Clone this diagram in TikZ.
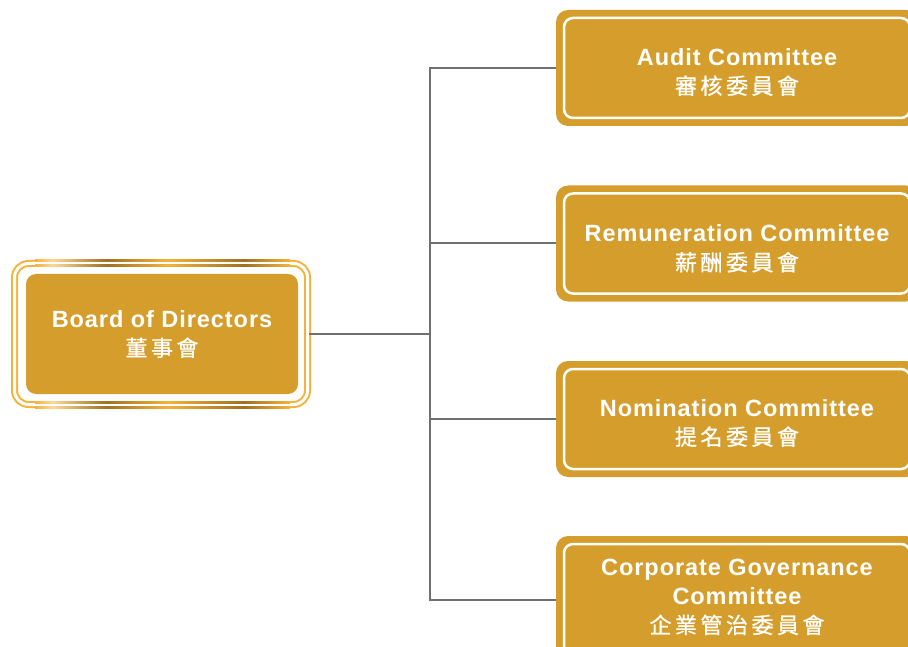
\documentclass[tikz,border=0pt]{standalone}
\usepackage{fontspec}
\setmainfont{Liberation Sans}
\newfontfamily\latin[LetterSpace=4]{Liberation Sans}
\newfontfamily\cjk[LetterSpace=16,FakeBold=0.8]{Noto Sans CJK TC}
\usetikzlibrary{positioning}
\definecolor{gold}{RGB}{213,158,44}
\definecolor{frameorange}{RGB}{245,178,58}
\definecolor{lightorange}{RGB}{252,216,150}
\definecolor{darkgold}{RGB}{160,112,32}
\definecolor{linegray}{RGB}{112,112,112}
\pgfdeclarehorizontalshading{gleam}{100bp}{color(0bp)=(frameorange); color(25bp)=(frameorange);
  color(28.5bp)=(lightorange); color(39bp)=(darkgold); color(51bp)=(frameorange);
  color(66bp)=(darkgold); color(75bp)=(frameorange); color(100bp)=(frameorange)}
\newcommand{\zh}[1]{{\cjk\mdseries\fontsize{22}{29}\selectfont #1}}

\begin{document}
\begin{tikzpicture}[x=1pt,y=-1pt]
        \tikzstyle{gold box}=[fill=gold,rounded corners=12pt,text=white,align=center,inner sep=0pt,font=\fontsize{23.5}{29}\selectfont\latin\bfseries]
        \tikzstyle{label text}=[gold box,fill=none]
        \tikzstyle{committee}=[gold box,minimum width=362pt,minimum height=116pt,
          path picture={\draw[white,line width=2.5pt,rounded corners=9pt]
            ([shift={(8,8)}]path picture bounding box.north west) rectangle
            ([shift={(-8,-8)}]path picture bounding box.south east);}]
        \tikzstyle{board frame}=[draw=frameorange,double=white,double distance=3pt,line width=2pt,rounded corners=14pt,minimum width=293pt,minimum height=141pt]
        \tikzstyle{link}=[draw=linegray,line width=2pt]
        \clip (0,0) rectangle (908,647);

        % board
        \node[board frame] (frame) at (161,334) {};
        \foreach \y in {260,265,401,406}
          \shade[shading=gleam] (35,\y) rectangle (290,\y+2);
        \node[gold box,minimum width=272pt,minimum height=120pt,rounded corners=10pt] (board) at (162,334)
          {Board of Directors\\\zh{董事會}};

        % committees
        \node[committee] (audit) at (737,68) {};
        \node[committee] (remun) at (737,243.5) {};
        \node[committee] (nomin) at (737,419) {};
        \node[committee,minimum height=128pt] (corp) at (737,600) {};
        \node[label text] (auditText) at ([yshift=-4pt]audit) {Audit Committee\\\zh{審核委員會}};
        \node[label text] (remunText) at ([yshift=-5pt]remun) {Remuneration Committee\\\zh{薪酬委員會}};
        \node[label text] (nominText) at ([yshift=-4pt]nomin) {Nomination Committee\\\zh{提名委員會}};
        \node[label text] (corpText) at ([yshift=3pt]corp) {Corporate Governance\\Committee\\\zh{企業管治委員會}};

        \coordinate (trunk) at (430,334);
        \draw[link] (frame) -- (trunk);
        \foreach \c in {audit,remun,nomin,corp}
          \draw[link] (\c.west) -| (trunk);
\end{tikzpicture}
\end{document}
